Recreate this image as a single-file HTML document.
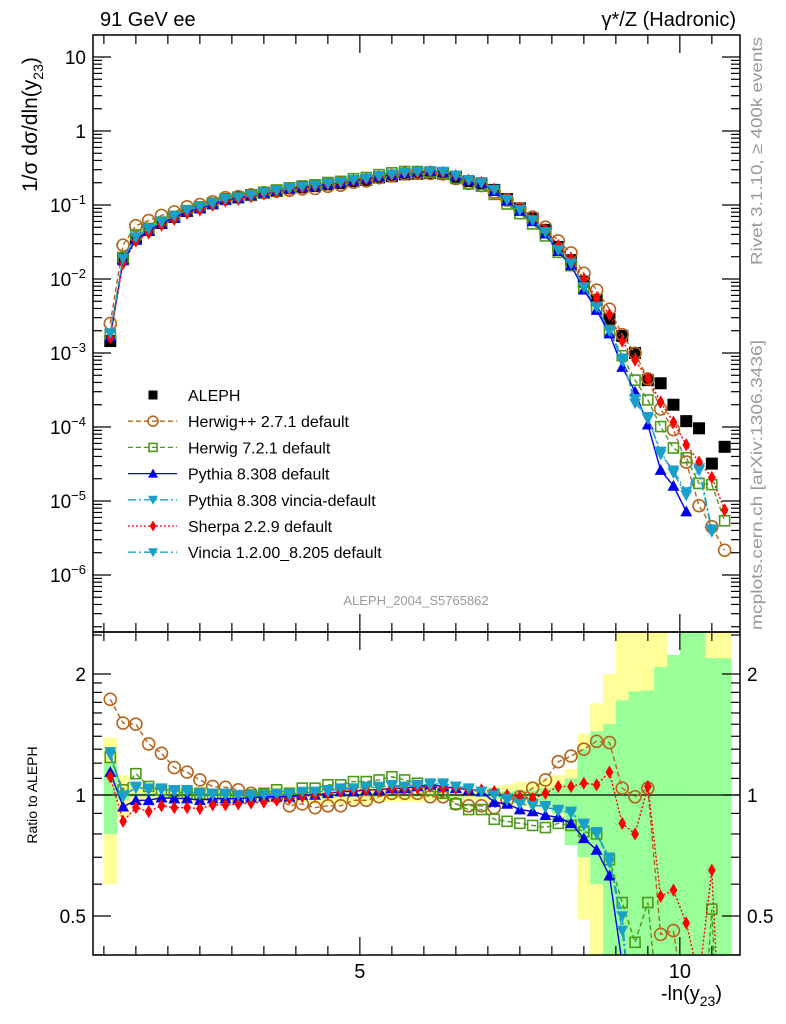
<!DOCTYPE html>
<html><head><meta charset="utf-8">
<style>
html,body{margin:0;padding:0;background:#fff;width:786px;height:1024px;overflow:hidden;}
svg{display:block;font-family:"Liberation Sans",sans-serif;}
</style></head>
<body>
<svg id="chart" width="786" height="1024" viewBox="0 0 786 1024" xmlns="http://www.w3.org/2000/svg">
<defs>
<clipPath id="clipMain"><rect x="93" y="35" width="647" height="597"/></clipPath>
<clipPath id="clipRatio"><rect x="93" y="632" width="647" height="323"/></clipPath>
</defs>
<g id="bands" clip-path="url(#clipRatio)"></g>
<line x1="93" y1="795" x2="740" y2="795" stroke="#000" stroke-width="1.3"/>
<g id="series-main" clip-path="url(#clipMain)"></g>
<g id="series-ratio" clip-path="url(#clipRatio)"></g>
<g id="axes"></g>
<rect x="93" y="35" width="647" height="597" fill="none" stroke="#000" stroke-width="1.5"/>
<rect x="93" y="632" width="647" height="323" fill="none" stroke="#000" stroke-width="1.5"/>
<text x="100" y="26" font-size="20">91 GeV ee</text>
<text x="736" y="26" font-size="20" text-anchor="end">γ*/Z (Hadronic)</text>
<text transform="translate(37,192) rotate(-90)" font-size="21">1/σ  dσ/dln(y<tspan font-size="14" dy="6">23</tspan><tspan dy="-6">)</tspan></text>
<text transform="translate(37,795) rotate(-90)" font-size="14" text-anchor="middle">Ratio to ALEPH</text>
<text x="722" y="1000" font-size="20" text-anchor="end">-ln(y<tspan font-size="14" dy="6">23</tspan><tspan dy="-6">)</tspan></text>
<text transform="translate(762,265) rotate(-90)" font-size="16" fill="#999" textLength="228" lengthAdjust="spacingAndGlyphs">Rivet 3.1.10, ≥ 400k events</text>
<text transform="translate(762,630) rotate(-90)" font-size="16" fill="#999" textLength="290" lengthAdjust="spacingAndGlyphs">mcplots.cern.ch [arXiv:1306.3436]</text>
<text x="416" y="605" font-size="13" fill="#999" text-anchor="middle">ALEPH_2004_S5765862</text>
<g id="legend"></g>
</svg>
<script>
const NS="http://www.w3.org/2000/svg";
const binCenters=[1.1,1.3,1.5,1.7,1.9,2.1,2.3,2.5,2.7,2.9,3.1,3.3,3.5,3.7,3.9,4.1,4.3,4.5,4.7,4.9,5.1,5.3,5.5,5.7,5.9,6.1,6.3,6.5,6.7,6.9,7.1,7.3,7.5,7.7,7.9,8.1,8.3,8.5,8.7,8.9,9.1,9.3,9.5,9.7,9.9,10.1,10.3,10.5,10.7];
const alephValues=[1.45e-3,0.019,0.035,0.046,0.057,0.069,0.083,0.093,0.105,0.12,0.126,0.136,0.147,0.155,0.168,0.174,0.18,0.19,0.197,0.21,0.218,0.236,0.245,0.26,0.265,0.27,0.265,0.24,0.21,0.195,0.16,0.12,0.09,0.066,0.046,0.027,0.018,9.2e-3,5.2e-3,2.9e-3,1.7e-3,1e-3,4.3e-4,3.9e-4,2e-4,1.2e-4,9.6e-5,3.2e-5,5.4e-5];
const herwigppRatio=[1.73,1.51,1.50,1.34,1.27,1.17,1.14,1.09,1.05,1.045,1.03,1.01,1.0,0.99,0.94,0.95,0.93,0.94,0.94,0.97,0.97,0.99,1.01,1.01,1.01,0.99,0.99,0.95,0.94,0.94,0.93,0.97,0.99,1.04,1.09,1.21,1.25,1.30,1.36,1.35,1.04,0.99,1.04,0.45,0.46,0.28,0.09,0.14,0.04];
const herwig7Ratio=[1.24,1.03,1.13,1.05,1.03,1.02,1.01,1.01,1.0,1.0,0.99,1.0,1.01,1.03,1.01,1.04,1.04,1.06,1.06,1.08,1.08,1.09,1.11,1.09,1.07,1.03,1.01,0.95,0.92,0.92,0.87,0.86,0.85,0.84,0.83,0.85,0.84,0.81,0.80,0.69,0.54,0.43,0.54,0.26,0.26,0.32,0.18,0.52,0.10];
const pythiaRatio=[1.14,0.935,0.97,0.97,0.985,0.98,0.98,0.97,0.98,0.98,0.98,0.985,0.99,0.99,0.99,1.0,1.0,1.01,1.02,1.02,1.03,1.03,1.04,1.04,1.05,1.06,1.05,1.04,1.03,1.02,0.96,0.95,0.92,0.91,0.89,0.88,0.85,0.78,0.73,0.63,0.38,0.30,0.25,0.067,0.08,0.06,null,null,null];
const pythiaVinciaRatio=[1.26,0.99,1.05,1.03,1.04,1.02,1.03,1.0,1.01,1.0,1.0,1.0,1.0,1.0,1.01,1.01,1.02,1.03,1.03,1.04,1.04,1.05,1.05,1.05,1.05,1.07,1.06,1.05,1.03,1.02,1.01,0.97,0.96,0.95,0.93,0.92,0.90,0.85,0.81,0.68,0.50,0.21,0.32,0.11,0.13,0.11,0.29,0.13,null];
const sherpaRatio=[1.11,0.86,0.93,0.91,0.94,0.93,0.93,0.925,0.945,0.945,0.95,0.955,0.96,0.97,0.98,0.99,1.0,1.01,1.02,1.03,1.03,1.03,1.04,1.04,1.04,1.05,1.04,1.04,1.03,1.03,1.02,1.0,0.99,0.98,1.01,1.05,1.05,1.07,1.06,1.14,0.85,0.80,1.05,0.56,0.58,0.48,0.35,0.65,0.14];
const vinciaRatio=[1.28,1.0,1.04,1.04,1.03,1.03,1.02,1.01,1.0,1.01,1.0,0.99,1.0,1.01,1.0,1.02,1.02,1.02,1.04,1.04,1.05,1.04,1.06,1.05,1.06,1.06,1.07,1.05,1.04,1.02,1.0,0.98,0.95,0.94,0.94,0.91,0.91,0.84,0.80,0.70,0.46,0.24,0.30,0.12,0.12,0.10,0.27,0.12,null];
const totalUncHi=[1.39,1.12,1.06,1.06,1.05,1.05,1.04,1.04,1.04,1.03,1.03,1.03,1.04,1.05,1.05,1.05,1.05,1.05,1.05,1.05,1.05,1.05,1.05,1.05,1.06,1.05,1.04,1.03,1.03,1.03,1.05,1.06,1.08,1.08,1.10,1.12,1.16,1.42,1.69,2.0,2.6,2.6,2.6,2.6,2.23,2.6,2.6,2.6,2.6];
const totalUncLo=[0.60,0.88,0.95,0.95,0.96,0.96,0.96,0.96,0.97,0.97,0.97,0.97,0.96,0.96,0.96,0.96,0.95,0.95,0.95,0.95,0.95,0.96,0.96,0.96,0.96,0.97,0.97,0.97,0.97,0.97,0.96,0.95,0.94,0.93,0.92,0.88,0.76,0.49,0.3,0.3,0.3,0.3,0.3,0.3,0.3,0.3,0.3,0.3,0.3];
const statUncHi=[1.2,1.03,1.01,1.01,1.01,1.01,1.01,1.01,1.01,1.01,1.01,1.01,1.01,1.01,1.01,1.01,1.01,1.01,1.01,1.01,1.01,1.01,1.01,1.01,1.01,1.01,1.01,1.01,1.01,1.01,1.02,1.02,1.03,1.03,1.04,1.05,1.10,1.30,1.44,1.50,1.72,1.81,1.82,2.08,2.23,2.6,2.6,2.19,2.19];
const statUncLo=[0.80,0.97,0.99,0.99,0.99,0.99,0.99,0.99,0.99,0.99,0.99,0.99,0.99,0.99,0.99,0.99,0.99,0.99,0.99,0.99,0.99,0.99,0.99,0.99,0.99,0.99,0.99,0.99,0.99,0.99,0.98,0.98,0.97,0.97,0.96,0.90,0.75,0.70,0.60,0.3,0.3,0.3,0.3,0.3,0.3,0.3,0.3,0.3,0.3];
const mainTickLabels=["10","1","10^-1","10^-2","10^-3","10^-4","10^-5","10^-6"];
const mainTickExps=[1,0,-1,-2,-3,-4,-5,-6];
const ratioTickValues=[2,1,0.5];
const ratioTickLabels=["2","1","0.5"];
const xTickValues=[5,10];
const xTickLabels=["5","10"];

const X0=93,X1=740,XMIN=0.83,XMAX=10.94;
function xs(v){return X0+(v-XMIN)/(XMAX-XMIN)*(X1-X0);}
function ym(v){return 57-74*(Math.log10(v)-1);}
function yr(r){return 795-121*Math.log2(r);}
const BW=(xs(1.3)-xs(1.1));

function el(tag,attrs,parent){const e=document.createElementNS(NS,tag);for(const k in attrs)e.setAttribute(k,attrs[k]);parent.appendChild(e);return e;}

const bands=document.getElementById('bands');
binCenters.forEach((c,i)=>{
  const x=xs(c)-BW/2;
  const r1=el('rect',{x:x,y:yr(totalUncHi[i]),width:BW+0.5,height:yr(totalUncLo[i])-yr(totalUncHi[i]),fill:'#ffff99'},bands);
  
  
  const r2=el('rect',{x:x,y:yr(statUncHi[i]),width:BW+0.5,height:yr(statUncLo[i])-yr(statUncHi[i]),fill:'#99ff99'},bands);
  
  
});

function marker(g,type,x,y,color,s){
  let m;
  if(type==='square'){m=el('rect',{x:x-s,y:y-s,width:2*s,height:2*s,fill:color},g);}
  else if(type==='osquare'){m=el('rect',{x:x-s+1,y:y-s+1,width:2*s-2,height:2*s-2,fill:'none',stroke:color,'stroke-width':1.6},g);}
  else if(type==='ocircle'){m=el('circle',{cx:x,cy:y,r:s,fill:'none',stroke:color,'stroke-width':1.6},g);}
  else if(type==='tup'){m=el('polygon',{points:`${x},${y-s} ${x+s},${y+s*0.8} ${x-s},${y+s*0.8}`,fill:color},g);}
  else if(type==='tdown'){m=el('polygon',{points:`${x},${y+s} ${x+s},${y-s*0.8} ${x-s},${y-s*0.8}`,fill:color},g);}
  else if(type==='diamond'){m=el('polygon',{points:`${x},${y-s*1.1} ${x+s*0.65},${y} ${x},${y+s*1.1} ${x-s*0.65},${y}`,fill:color},g);}
  return m;
}

const series=[
 {name:'herwigpp',label:'Herwig++ 2.7.1 default',ratio:herwigppRatio,color:'#b5651d',dash:'5,3',marker:'ocircle'},
 {name:'herwig7',label:'Herwig 7.2.1 default',ratio:herwig7Ratio,color:'#4c9a1c',dash:'5,3',marker:'osquare'},
 {name:'pythia',label:'Pythia 8.308 default',ratio:pythiaRatio,color:'#0000ee',dash:'',marker:'tup'},
 {name:'pythia-vincia',label:'Pythia 8.308 vincia-default',ratio:pythiaVinciaRatio,color:'#1aa0c8',dash:'8,3,2,3',marker:'tdown'},
 {name:'sherpa',label:'Sherpa 2.2.9 default',ratio:sherpaRatio,color:'#ff0000',dash:'2,2',marker:'diamond'},
 {name:'vincia',label:'Vincia 1.2.00_8.205 default',ratio:vinciaRatio,color:'#1aa0c8',dash:'8,3,2,3',marker:'tdown'}
];

const gm=document.getElementById('series-main');
const gr=document.getElementById('series-ratio');
const ga=el('g',{},gm);


binCenters.forEach((c,i)=>{
  const m=marker(ga,'square',xs(c),ym(alephValues[i]),'#000',6);
  
  
});
series.forEach(s=>{
  [[gm,(i)=>ym(alephValues[i]*s.ratio[i])],[gr,(i)=>yr(s.ratio[i])]].forEach(([par,yf],k)=>{
    const g=el('g',{},par);
    
    
    let pts=[];
    binCenters.forEach((c,i)=>{ if(s.ratio[i]!=null) pts.push([xs(c),yf(i)]); });
    const pl=el('polyline',{points:pts.map(p=>p.join(',')).join(' '),fill:'none',stroke:s.color,'stroke-width':1.4,'stroke-dasharray':s.dash},g);
    
    
    pts.forEach(p=>{
      const m=marker(g,s.marker,p[0],p[1],s.color,6);
      
      
    });
  });
});

const ax=document.getElementById('axes');
function tick(x1,y1,x2,y2){el('line',{x1,y1,x2,y2,stroke:'#000','stroke-width':1.2},ax);}
for(let v=1;v<=10.9;v+=0.5){
  const x=xs(v); const big=(v%5===0);
  const L=big?18:9;
  tick(x,632,x,632-L); tick(x,35,x,35+L);
  tick(x,955,x,955-L); tick(x,632,x,632+L);
}
xTickValues.forEach((v,i)=>{
  const t=el('text',{x:xs(v),y:978,'font-size':20,'text-anchor':'middle'},ax);
  t.textContent=xTickLabels[i];
  
  
});
for(let e=-7;e<=1;e++){
  for(let k=1;k<=9;k++){
    const y=ym(k*Math.pow(10,e)); if(y<35||y>632) continue;
    const L=k===1?18:9;
    tick(93,y,93+L,y); tick(740,y,740-L,y);
  }
}
mainTickExps.forEach((e,i)=>{
  const lab=mainTickLabels[i];
  const t=el('text',{x:86,y:ym(Math.pow(10,e))+7,'font-size':19,'text-anchor':'end'},ax);
  if(lab.indexOf('^')>0){const [b,p]=lab.split('^');t.textContent=b;const ts=el('tspan',{'font-size':13,dy:-8},t);ts.textContent=p.replace('-','−');}
  else t.textContent=lab;
  
  
});
[0.4,0.5,0.6,0.7,0.8,0.9,1,1.1,1.2,1.3,1.4,1.5,1.6,1.7,1.8,1.9,2,2.5].forEach(r=>{
  const y=yr(r); if(y<632||y>955) return;
  const big=(r===0.5||r===1||r===2);
  const L=big?18:9;
  tick(93,y,93+L,y); tick(740,y,740-L,y);
});
ratioTickValues.forEach((r,i)=>{
  const t=el('text',{x:86,y:yr(r)+7,'font-size':19,'text-anchor':'end'},ax);
  t.textContent=ratioTickLabels[i];
  
  
  const t2=el('text',{x:747,y:yr(r)+7,'font-size':19},ax);
  t2.textContent=ratioTickLabels[i];
  
  
});

const lg=document.getElementById('legend');
const rows=[{label:'ALEPH',marker:'square',color:'#000',dash:null}].concat(series);
rows.forEach((s,i)=>{
  const y=395+i*26.2;
  const g=el('g',{},lg);
  
  
  if(s.dash!==null) el('line',{x1:128,y1:y,x2:177,y2:y,stroke:s.color,'stroke-width':1.3,'stroke-dasharray':s.dash},g);
  marker(g,s.marker,153,y,s.color,s.marker==='square'?4.5:5);
  const t=el('text',{x:188,y:y+6,'font-size':16},g);
  t.textContent=s.label;
});
</script>
</body></html>
